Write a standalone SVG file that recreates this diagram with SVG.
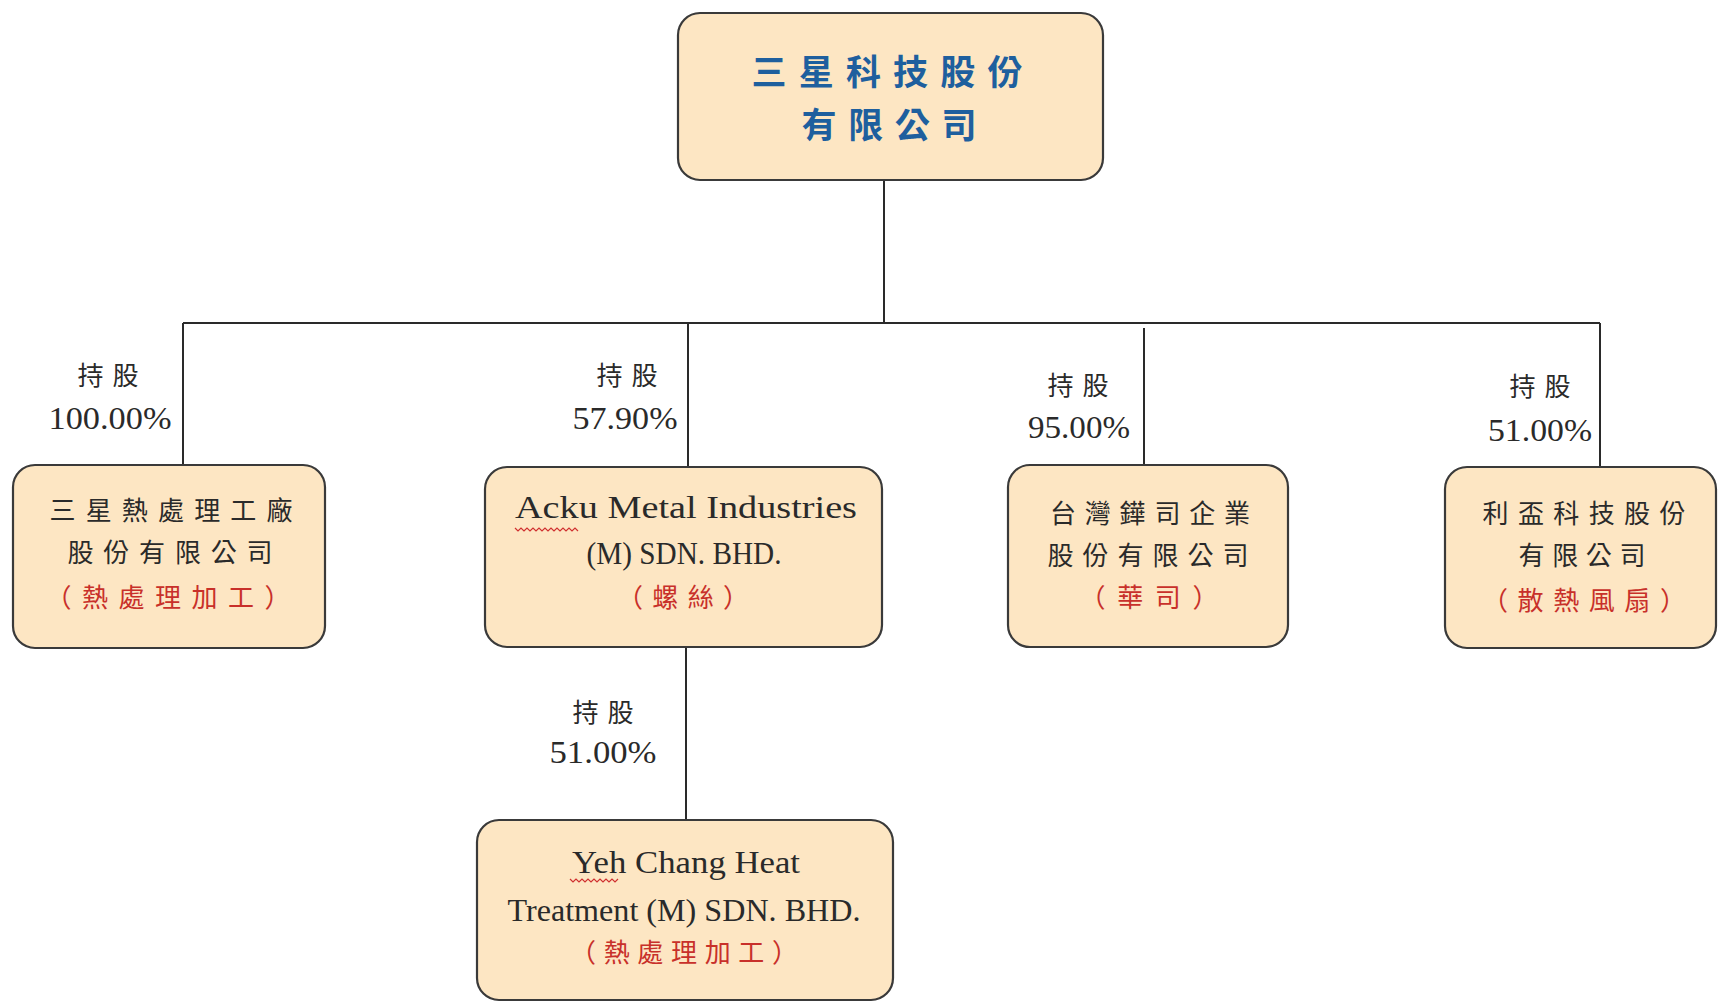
<svg xmlns="http://www.w3.org/2000/svg" width="1718" height="1003" viewBox="0 0 1718 1003">
<style>
.box{fill:#fde6c3;stroke:#3a3a3a;stroke-width:2.2}
.cj{font-family:"Noto Sans CJK TC","Noto Sans CJK SC",sans-serif;font-size:26px;fill:#2a2a2a;text-anchor:middle}
.red{fill:#c8302a}
.lat{font-family:"Liberation Serif",serif;font-size:31px;fill:#2a2a2a;text-anchor:middle}
.top{font-family:"Noto Sans CJK TC","Noto Sans CJK SC",sans-serif;font-size:35px;font-weight:bold;fill:#1e5f9e;text-anchor:middle}
.ln{stroke:#2a2a2a;stroke-width:2;fill:none}
.wv{stroke:#d03030;stroke-width:1.2;fill:none}
</style>
<rect width="1718" height="1003" fill="#ffffff"/>
<g id="connectors">
<path class="ln" d="M884 180V323M183 323H1600M183 323V465M688 323V467M1144 328V465M1600 323V467M686 647V820"/>
</g>
<g id="labels">
<text class="cj" x="108" y="385" textLength="61" lengthAdjust="spacing">持股</text>
<text class="lat" x="110" y="429" textLength="123" lengthAdjust="spacingAndGlyphs">100.00%</text>
<text class="cj" x="627" y="385" textLength="61" lengthAdjust="spacing">持股</text>
<text class="lat" x="625" y="429" textLength="105" lengthAdjust="spacingAndGlyphs">57.90%</text>
<text class="cj" x="1078" y="395" textLength="61" lengthAdjust="spacing">持股</text>
<text class="lat" x="1079" y="438" textLength="102" lengthAdjust="spacingAndGlyphs">95.00%</text>
<text class="cj" x="1540" y="396" textLength="61" lengthAdjust="spacing">持股</text>
<text class="lat" x="1540" y="441" textLength="104" lengthAdjust="spacingAndGlyphs">51.00%</text>
<text class="cj" x="603" y="722" textLength="61" lengthAdjust="spacing">持股</text>
<text class="lat" x="603" y="763" textLength="107" lengthAdjust="spacingAndGlyphs">51.00%</text>
</g>
<g id="n0">
<rect class="box" x="678" y="13" width="425" height="167" rx="22"/>
<text class="top" x="887" y="85" textLength="271" lengthAdjust="spacing">三星科技股份</text>
<text class="top" x="889" y="138" textLength="175" lengthAdjust="spacing">有限公司</text>
</g>
<g id="n1">
<rect class="box" x="13" y="465" width="312" height="183" rx="22"/>
<text class="cj" x="171" y="520" textLength="243" lengthAdjust="spacing">三星熱處理工廠</text>
<text class="cj" x="170" y="562" textLength="205" lengthAdjust="spacing">股份有限公司</text>
<text class="cj red" x="168" y="607" textLength="245" lengthAdjust="spacing">（熱處理加工）</text>
</g>
<g id="n2">
<rect class="box" x="485" y="467" width="397" height="180" rx="22"/>
<text class="lat" x="686" y="518" textLength="342" lengthAdjust="spacingAndGlyphs">Acku Metal Industries</text>
<path class="wv" d="M515 528l3 3 3-3 3 3 3-3 3 3 3-3 3 3 3-3 3 3 3-3 3 3 3-3 3 3 3-3 3 3 3-3 3 3 3-3 3 3 3-3 3 3"/>
<text class="lat" x="684" y="564" textLength="195" lengthAdjust="spacingAndGlyphs">(M) SDN. BHD.</text>
<text class="cj red" x="683" y="607" textLength="132" lengthAdjust="spacing">（螺絲）</text>
</g>
<g id="n3">
<rect class="box" x="1008" y="465" width="280" height="182" rx="22"/>
<text class="cj" x="1150" y="523" textLength="200" lengthAdjust="spacing">台灣鏵司企業</text>
<text class="cj" x="1148" y="565" textLength="201" lengthAdjust="spacing">股份有限公司</text>
<text class="cj red" x="1149" y="607" textLength="139" lengthAdjust="spacing">（華司）</text>
</g>
<g id="n4">
<rect class="box" x="1445" y="467" width="271" height="181" rx="22"/>
<text class="cj" x="1584" y="523" textLength="203" lengthAdjust="spacing">利盃科技股份</text>
<text class="cj" x="1582" y="565" textLength="127" lengthAdjust="spacing">有限公司</text>
<text class="cj red" x="1584" y="610" textLength="204" lengthAdjust="spacing">（散熱風扇）</text>
</g>
<g id="n5">
<rect class="box" x="477" y="820" width="416" height="180" rx="22"/>
<text class="lat" x="686" y="873" textLength="228" lengthAdjust="spacingAndGlyphs">Yeh Chang Heat</text>
<path class="wv" d="M570 879l3 3 3-3 3 3 3-3 3 3 3-3 3 3 3-3 3 3 3-3 3 3 3-3 3 3 3-3 3 3 3-3"/>
<text class="lat" x="684" y="921" textLength="353" lengthAdjust="spacingAndGlyphs">Treatment (M) SDN. BHD.</text>
<text class="cj red" x="684" y="962" textLength="228" lengthAdjust="spacing">（熱處理加工）</text>
</g>
</svg>
